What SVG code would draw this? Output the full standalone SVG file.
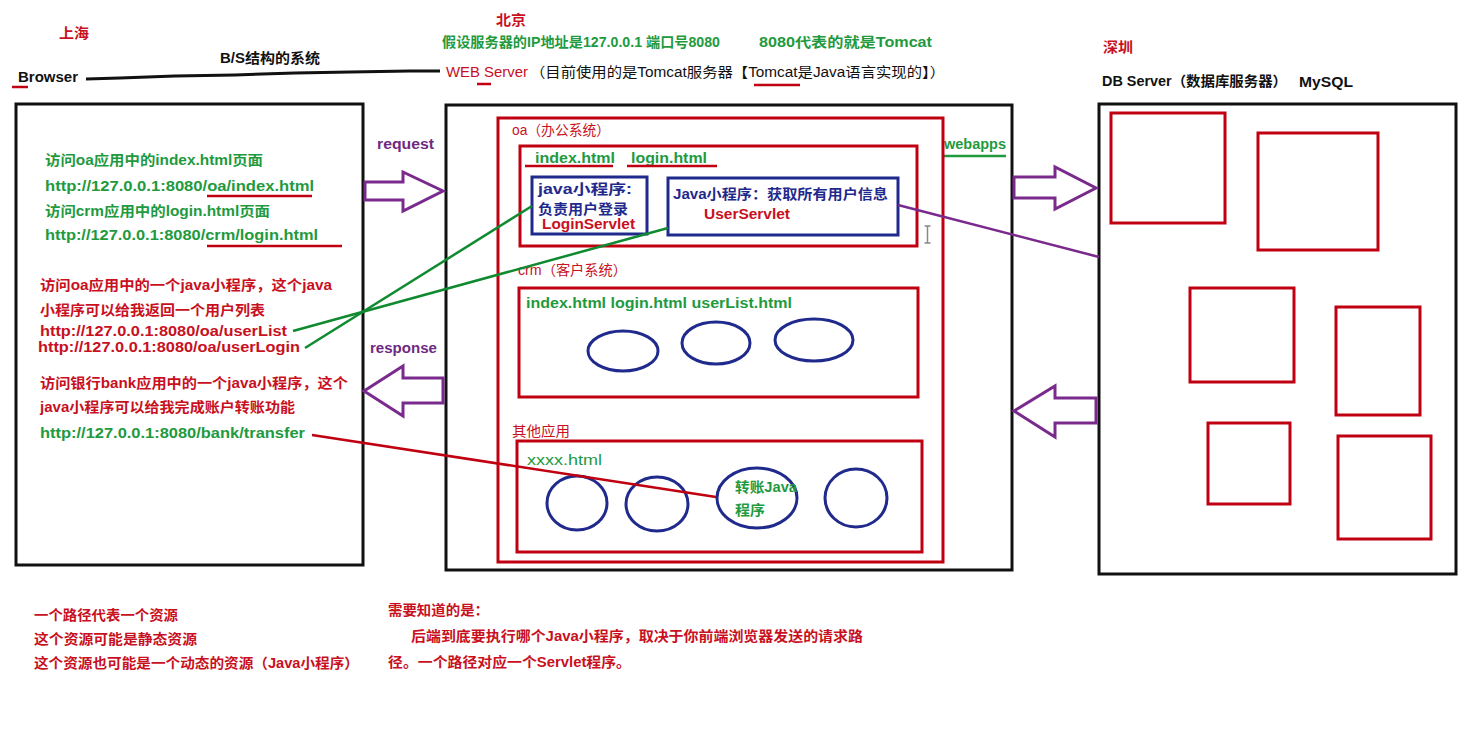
<svg xmlns="http://www.w3.org/2000/svg" width="1476" height="734" viewBox="0 0 1476 734">
<style>
text{font-family:"Liberation Sans","Noto Sans CJK SC",sans-serif;font-size:14px;font-weight:bold}
.n{font-weight:normal}
.red{fill:#c8101e}
.grn{fill:#1f9a3e}
.blk{fill:#111}
.blu{fill:#1f2a8c}
.pur{fill:#6e2a82}
.box{fill:none;stroke:#111;stroke-width:3}
.rbox{fill:none;stroke:#c00010;stroke-width:3}
.bbox{fill:none;stroke:#1f2a8c;stroke-width:3}
.ell{fill:none;stroke:#1f2a8c;stroke-width:3}
.ul{stroke:#c00010;stroke-width:2.5}
.arr{fill:#fff;stroke:#7a2a8c;stroke-width:3;stroke-linejoin:miter}
</style>
<rect width="1476" height="734" fill="#fff"/>

<g id="header">
<text x="59" y="38" class="red" textLength="30" lengthAdjust="spacingAndGlyphs">上海</text>
<text x="496" y="25" class="red" textLength="30" lengthAdjust="spacingAndGlyphs">北京</text>
<text x="442" y="47" class="grn" textLength="278" lengthAdjust="spacingAndGlyphs">假设服务器的IP地址是127.0.0.1 端口号8080</text>
<text x="759" y="47" class="grn" textLength="173" lengthAdjust="spacingAndGlyphs">8080代表的就是Tomcat</text>
<text x="220" y="63" class="blk" textLength="100" lengthAdjust="spacingAndGlyphs">B/S结构的系统</text>
<text x="18" y="82" class="blk" textLength="60" lengthAdjust="spacingAndGlyphs">Browser</text>
<line x1="12" y1="87" x2="28" y2="87" class="ul"/>
<text x="446" y="77" class="red n" textLength="82" lengthAdjust="spacingAndGlyphs">WEB Server</text>
<text x="530" y="77" class="blk n" textLength="415" lengthAdjust="spacingAndGlyphs">（目前使用的是Tomcat服务器【Tomcat是Java语言实现的】）</text>
<line x1="477" y1="84" x2="491" y2="84" class="ul"/>
<line x1="754" y1="85" x2="800" y2="85" class="ul"/>
<text x="1103" y="52" class="red" textLength="30" lengthAdjust="spacingAndGlyphs">深圳</text>
<text x="1102" y="86" class="blk" textLength="185" lengthAdjust="spacingAndGlyphs">DB Server（数据库服务器）</text>
<text x="1299" y="87" class="blk" textLength="54" lengthAdjust="spacingAndGlyphs">MySQL</text>
</g>

<g id="browser">
<rect x="16" y="104" width="347" height="461" class="box"/>
<text x="45" y="165" class="grn" textLength="218" lengthAdjust="spacingAndGlyphs">访问oa应用中的index.html页面</text>
<text x="45" y="191" class="grn" textLength="269" lengthAdjust="spacingAndGlyphs">http://127.0.0.1:8080/oa/index.html</text>
<line x1="207" y1="196" x2="312" y2="196" class="ul"/>
<text x="45" y="216" class="grn" textLength="225" lengthAdjust="spacingAndGlyphs">访问crm应用中的login.html页面</text>
<text x="45" y="240" class="grn" textLength="273" lengthAdjust="spacingAndGlyphs">http://127.0.0.1:8080/crm/login.html</text>
<line x1="207" y1="246" x2="342" y2="246" class="ul"/>
<text x="40" y="290" class="red" textLength="292" lengthAdjust="spacingAndGlyphs">访问oa应用中的一个java小程序，这个java</text>
<text x="40" y="315" class="red" textLength="225" lengthAdjust="spacingAndGlyphs">小程序可以给我返回一个用户列表</text>
<text x="40" y="336" class="red" textLength="247" lengthAdjust="spacingAndGlyphs">http://127.0.0.1:8080/oa/userList</text>
<text x="38" y="352" class="red" textLength="262" lengthAdjust="spacingAndGlyphs">http://127.0.0.1:8080/oa/userLogin</text>
<text x="40" y="388" class="red" textLength="308" lengthAdjust="spacingAndGlyphs">访问银行bank应用中的一个java小程序，这个</text>
<text x="40" y="412" class="red" textLength="255" lengthAdjust="spacingAndGlyphs">java小程序可以给我完成账户转账功能</text>
<text x="40" y="438" class="grn" textLength="265" lengthAdjust="spacingAndGlyphs">http://127.0.0.1:8080/bank/transfer</text>
</g>

<g id="web-server">
<rect x="446" y="105" width="566" height="465" class="box"/>
<text x="944" y="149" class="grn" textLength="62" lengthAdjust="spacingAndGlyphs">webapps</text>
<line x1="944" y1="156" x2="1006" y2="156" stroke="#1f9a3e" stroke-width="2.5"/>
</g>

<g id="oa">
<rect x="498" y="118" width="445" height="444" class="rbox"/>
<text x="512" y="135" class="red n" textLength="98" lengthAdjust="spacingAndGlyphs">oa（办公系统）</text>
<rect x="520" y="146" width="397" height="100" class="rbox"/>
<text x="535" y="163" class="grn" textLength="80" lengthAdjust="spacingAndGlyphs">index.html</text>
<text x="631" y="163" class="grn" textLength="76" lengthAdjust="spacingAndGlyphs">login.html</text>
<line x1="525" y1="166" x2="613" y2="166" class="ul"/>
<line x1="627" y1="166" x2="717" y2="166" class="ul"/>
</g>

<g id="login-servlet">
<rect x="532" y="177" width="115" height="57" class="bbox"/>
<text x="538" y="194" class="blu" textLength="94" lengthAdjust="spacingAndGlyphs">java小程序:</text>
<text x="538" y="214" class="blu" textLength="90" lengthAdjust="spacingAndGlyphs">负责用户登录</text>
<text x="542" y="229" class="red" textLength="93" lengthAdjust="spacingAndGlyphs">LoginServlet</text>
</g>

<g id="user-servlet">
<rect x="668" y="178" width="230" height="57" class="bbox"/>
<text x="673" y="199" class="blu" textLength="215" lengthAdjust="spacingAndGlyphs">Java小程序：获取所有用户信息</text>
<text x="704" y="219" class="red" textLength="86" lengthAdjust="spacingAndGlyphs">UserServlet</text>
</g>

<g id="cursor">
<path d="M924.5,226 h6 M927.5,226 v17 M924.5,243 h6" fill="none" stroke="#888" stroke-width="1.5"/>
</g>

<g id="crm">
<text x="518" y="275" class="red n" textLength="109" lengthAdjust="spacingAndGlyphs">crm（客户系统）</text>
<rect x="519" y="288" width="399" height="109" class="rbox"/>
<text x="526" y="308" class="grn" textLength="266" lengthAdjust="spacingAndGlyphs">index.html  login.html userList.html</text>
<ellipse cx="623" cy="351" rx="35" ry="20" class="ell"/>
<ellipse cx="716" cy="343" rx="34" ry="21" class="ell"/>
<ellipse cx="814" cy="340" rx="39" ry="21" class="ell"/>
</g>

<g id="other-apps">
<text x="512" y="436" class="red n" textLength="58" lengthAdjust="spacingAndGlyphs">其他应用</text>
<rect x="517" y="441" width="405" height="111" class="rbox"/>
<text x="527" y="465" class="grn n" textLength="75" lengthAdjust="spacingAndGlyphs">xxxx.html</text>
<ellipse cx="577" cy="503" rx="30" ry="27" class="ell"/>
<ellipse cx="657" cy="504" rx="31" ry="27" class="ell"/>
<ellipse cx="757" cy="498" rx="40" ry="30" class="ell"/>
<ellipse cx="856" cy="498" rx="31" ry="29" class="ell"/>
<text x="735" y="492" class="grn" textLength="62" lengthAdjust="spacingAndGlyphs">转账Java</text>
<text x="735" y="515" class="grn" textLength="30" lengthAdjust="spacingAndGlyphs">程序</text>
</g>

<g id="db-server">
<rect x="1099" y="104" width="357" height="470" class="box"/>
<rect x="1111" y="113" width="114" height="110" class="rbox"/>
<rect x="1258" y="133" width="120" height="117" class="rbox"/>
<rect x="1190" y="288" width="104" height="94" class="rbox"/>
<rect x="1336" y="307" width="84" height="108" class="rbox"/>
<rect x="1208" y="423" width="82" height="81" class="rbox"/>
<rect x="1338" y="436" width="93" height="103" class="rbox"/>
</g>

<g id="bottom-notes">
<text x="34" y="620" class="red" textLength="144" lengthAdjust="spacingAndGlyphs">一个路径代表一个资源</text>
<text x="34" y="644" class="red" textLength="163" lengthAdjust="spacingAndGlyphs">这个资源可能是静态资源</text>
<text x="34" y="668" class="red" textLength="325" lengthAdjust="spacingAndGlyphs">这个资源也可能是一个动态的资源（Java小程序）</text>
<text x="388" y="615" class="red" textLength="101" lengthAdjust="spacingAndGlyphs">需要知道的是：</text>
<text x="411" y="641" class="red" textLength="452" lengthAdjust="spacingAndGlyphs">后端到底要执行哪个Java小程序，取决于你前端浏览器发送的请求路</text>
<text x="388" y="667" class="red" textLength="243" lengthAdjust="spacingAndGlyphs">径。一个路径对应一个Servlet程序。</text>
</g>

<g id="connectors">
<polyline points="86,79 120,78 175,76 235,75 295,73 350,72 410,71 440,71" fill="none" stroke="#111" stroke-width="3"/>
<text x="377" y="149" class="pur" textLength="57" lengthAdjust="spacingAndGlyphs">request</text>
<path d="M365,182 H403 V172 L443,191 L403,211 V200 H365 Z" class="arr"/>
<text x="370" y="353" class="pur" textLength="67" lengthAdjust="spacingAndGlyphs">response</text>
<path d="M443,378 H403 V366 L364,391 L403,416 V403 H443 Z" class="arr"/>
<path d="M1014,177 H1055 V167 L1096,188 L1055,209 V198 H1014 Z" class="arr"/>
<path d="M1096,398 H1055 V386 L1014,411 L1055,437 V423 H1096 Z" class="arr"/>
<line x1="293" y1="331" x2="668" y2="228" stroke="#108a30" stroke-width="2.5"/>
<line x1="305" y1="348" x2="532" y2="206" stroke="#108a30" stroke-width="2.5"/>
<line x1="312" y1="435" x2="716" y2="497" stroke="#c00010" stroke-width="2.5"/>
<line x1="898" y1="205" x2="1099" y2="257" stroke="#7a2a8c" stroke-width="2.5"/>
</g>
</svg>
